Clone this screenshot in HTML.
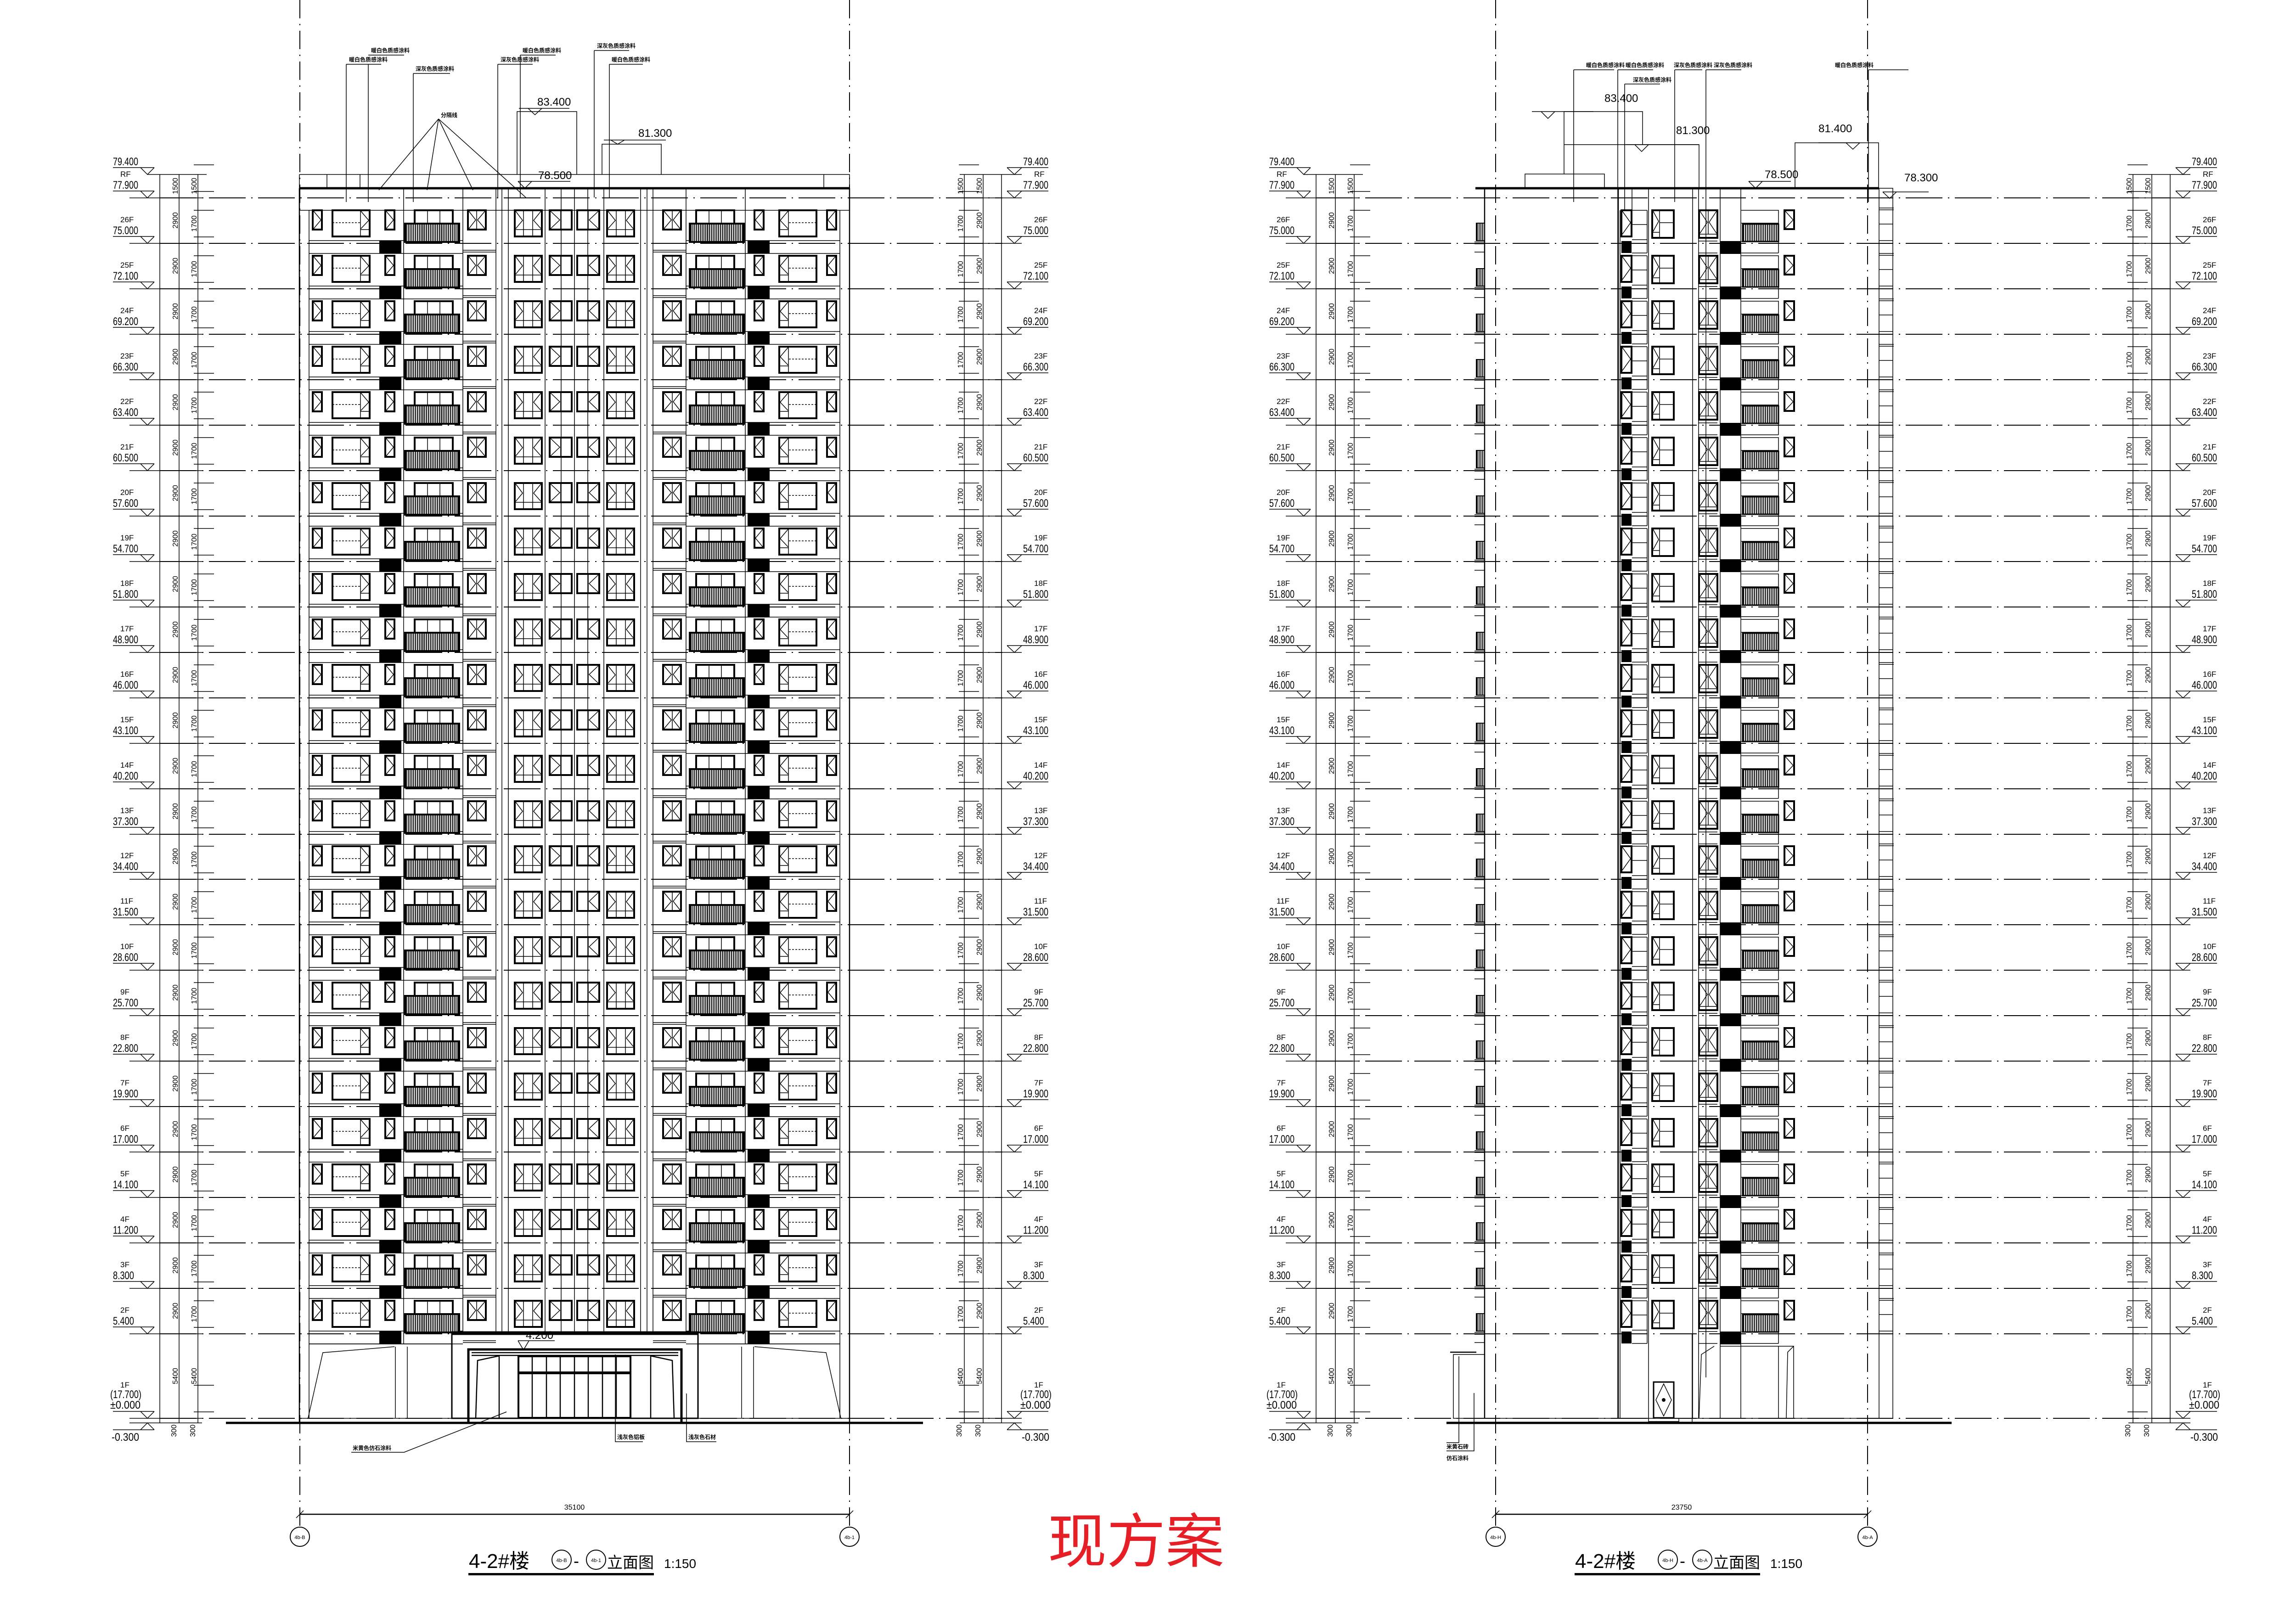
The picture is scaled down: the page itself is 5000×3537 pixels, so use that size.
<!DOCTYPE html>
<html><head><meta charset="utf-8"><style>
html,body{margin:0;padding:0;background:#fff}
svg{display:block}
text{font-family:"Liberation Sans","Noto Sans CJK SC",sans-serif;fill:#000}
path{fill:none;stroke:#000}
.n{stroke-width:1.5}
.m{stroke-width:2.5}
.k{stroke-width:5}
.w{fill:#fff;stroke:#000;stroke-width:4}
.b{fill:none;stroke:#000;stroke-width:1.5}
.dd{stroke-width:2;stroke-dasharray:80 12 3 12}
.ax{stroke-width:2;stroke-dasharray:40 12 3 12}
.f{font-size:17px}
.v{font-size:24px}
.d{font-size:16px;text-anchor:middle}
.s{font-size:12px;font-weight:bold}
</style></head><body>
<svg xmlns="http://www.w3.org/2000/svg" width="5000" height="3537" viewBox="0 0 5000 3537">
<defs>
<pattern id="h" width="4" height="10" patternUnits="userSpaceOnUse"><rect width="4" height="10" fill="#fff"/><rect width="2" height="10" fill="#000"/></pattern>
<g id="LFH">
<path class="n" d="M673 -6H1008M673 22H1008M1008 15H1080M1008 19H1080"/>
<rect x="826" y="-6" width="48" height="28"/>
<rect class="w" x="681" y="-72" width="20" height="42"/><path class="n" d="M683 -70L699 -51L683 -32"/>
<rect class="w" x="724" y="-72" width="81" height="57"/><path class="n" d="M785 -72V-15M785 -30H805M786 -70L803 -50L786 -32"/><path class="n" d="M724 -45H785" stroke-dasharray="4 3"/>
<rect class="w" x="839" y="-72" width="20" height="42"/><path class="n" d="M841 -70L857 -51L841 -32"/>
<rect class="w" x="903" y="-72" width="83" height="29"/><path class="n" d="M931 -72V-43M958 -72V-43"/>
<rect x="882" y="-43" width="118" height="40" fill="url(#h)" stroke="#000" stroke-width="4"/><path class="m" d="M921 -43V-3M961 -43V-3"/>
<rect class="w" x="1019" y="-72" width="39" height="42"/><path class="n" d="M1038 -72V-30M1021 -70L1036 -51L1021 -32M1056 -70L1040 -51L1056 -32"/>
<rect class="w" x="1121" y="-72" width="59" height="57"/><path class="n" d="M1140 -72V-15M1160 -72V-15M1121 -30H1180M1123 -70L1138 -50L1123 -32M1178 -70L1162 -50L1178 -32"/>
<rect class="w" x="1197" y="-72" width="48" height="42"/><path class="n" d="M1221 -72V-30M1199 -70L1219 -51L1199 -32"/>
</g>
<g id="LF"><use href="#LFH"/><use href="#LFH" transform="matrix(-1 0 0 1 2502 0)"/></g>
<g id="LMa"><path class="n" d="M282 0H348M246 -15H336M306 -15L321 0L336 -15M422 -72H466M422 -14H466M340 0H440"/></g>
<g id="LMb"><path class="n" d="M2183 0H2225M2193 -15H2283M2193 -15L2209 0L2225 -15M2088 -72H2132M2088 -14H2132M2092 0H2190"/></g>
<g id="F1"><use href="#LMa"/><use href="#LMb"/><path class="dd" d="M348 0H2183"/></g>
<g id="F2"><use href="#LMa" x="2518"/><use href="#LMb" x="2545"/><path class="dd" d="M2866 0H4726"/></g>
<g id="RB">
<rect x="3531" y="-5" width="22" height="26"/>
<rect x="3746" y="-5" width="45" height="28"/>
<rect class="w" x="3531" y="-72" width="22" height="57"/><path class="n" d="M3533 -70L3551 -45L3533 -20"/>
<path class="n" d="M3554 -72H3587M3554 -41H3587M3554 -8H3587M3554 21H3587M3587 -72V21"/>
<rect class="w" x="3598" y="-72" width="47" height="60"/><path class="n" d="M3614 -72V-12M3598 -24H3614M3600 -70L3612 -48L3600 -26M3614 -45H3645"/>
<rect class="w" x="3700" y="-72" width="40" height="60"/><path class="n" d="M3720 -72V-20M3700 -20H3740M3702 -70L3718 -46L3702 -22M3738 -70L3722 -46L3738 -22M3699 -5H3740M3699 21H3740"/>
<path class="n" d="M3792 -72H3873V21M3792 -44H3873M3792 -4H3873M3792 21H3873"/>
<rect x="3795" y="-42" width="78" height="38" fill="url(#h)" stroke="#000" stroke-width="3"/>
<rect class="w" x="3886" y="-72" width="21" height="41"/><path class="n" d="M3888 -70L3905 -51L3888 -33"/>
<path class="n" d="M4092 -77H4124M4092 -73H4124M4092 -42H4122M4092 -6H4122"/>
<rect x="3215" y="-44" width="18" height="38" fill="url(#h)" stroke="#000" stroke-width="2"/>
<path class="n" d="M3211 -3H3233M3211 1H3233M3211 19H3233"/>
</g>
<g id="FL"><use href="#F1"/><use href="#F2"/><use href="#LF"/><use href="#RB"/></g>
</defs>
<rect width="5000" height="3537" fill="#fff"/>

<!-- axes -->
<path class="ax" d="M653 0V3330M1850 0V3330M3257 0V3330M4067 0V3330"/>

<!-- floors -->
<use href="#FL" y="530"/><use href="#FL" y="629"/><use href="#FL" y="728"/><use href="#FL" y="827"/><use href="#FL" y="926"/>
<use href="#FL" y="1025"/><use href="#FL" y="1124"/><use href="#FL" y="1223"/><use href="#FL" y="1322"/><use href="#FL" y="1421"/>
<use href="#FL" y="1520"/><use href="#FL" y="1619"/><use href="#FL" y="1718"/><use href="#FL" y="1817"/><use href="#FL" y="1915"/>
<use href="#FL" y="2014"/><use href="#FL" y="2113"/><use href="#FL" y="2212"/><use href="#FL" y="2311"/><use href="#FL" y="2410"/>
<use href="#FL" y="2509"/><use href="#FL" y="2608"/><use href="#FL" y="2707"/><use href="#FL" y="2806"/><use href="#FL" y="2905"/>
<use href="#F1" y="431"/><use href="#F2" y="431"/>
<use href="#F1" y="3089"/><use href="#F2" y="3089"/>
<!-- 79.400 marks -->
<path class="n" d="M246 365H336M306 365L321 380L336 365M321 380H450M2193 365H2283M2193 365L2209 380L2225 365M2090 380H2225"/>
<path class="n" d="M2764 365H2854M2824 365L2839 380L2854 365M2839 380H2968M4738 365H4828M4738 365L4754 380L4770 365M4635 380H4770"/>
<!-- -0.300 marks -->
<path class="n" d="M246 3114H336M306 3114L321 3099L336 3114M282 3099H440M2193 3114H2283M2193 3114L2209 3099L2225 3114M2090 3099H2225"/>
<path class="n" d="M2764 3114H2854M2824 3114L2839 3099L2854 3114M2800 3099H2958M4738 3114H4828M4738 3114L4754 3099L4770 3114M4635 3099H4770"/>
<!-- dim verticals -->
<path class="n" d="M348 380V3099M390 380V3099M431 380V3099M2100 380V3099M2141 380V3099M2181 380V3099"/>
<path class="n" d="M2866 380V3099M2908 380V3099M2949 380V3099M4645 380V3099M4686 380V3099M4726 380V3099"/>

<!-- LEFT ELEVATION building -->
<path class="n" d="M652 380H1850V410M652 380V410M712 380V410M784 380V410M1794 380V410"/>
<path class="k" d="M652 410H1850"/>
<path class="m" d="M652 410V3099M1850 410V3099"/>
<path class="n" d="M652 458H1850M673 458V3089M1829 458V3089"/>
<path class="n" d="M879 410V2927M1008 410V2905M1080 410V2905M1093 410V2905M1107 410V2905M1187 410V2905M1222 410V2905M1251 410V2905M1623 410V2927M1494 410V2905M1422 410V2905M1409 410V2905M1395 410V2905M1315 410V2905M1280 410V2905"/>
<!-- upper structures left -->
<path class="n" d="M1126 380V243H1256V380M1311 380V314H1440V380"/>
<path class="n" d="M1130 236H1240M1150 236L1165 250L1180 236M1315 305H1450M1330 305L1345 314L1360 305M1128 395H1242M1128 395L1143 410L1158 395"/>
<text x="1170" y="230" class="v">83.400</text>
<text x="1390" y="298" class="v">81.300</text>
<text x="1172" y="390" class="v">78.500</text>
<!-- leaders top left -->
<path class="n" d="M754 140V440M754 140H830M802 140V440M802 120H880M900 160V440M900 160H980M1084 140V430M1084 140H1160M1133 120V430M1133 120H1210M1294 110V430M1294 110H1370M1327 140V430M1327 140H1400M955 259L825 414M955 259L930 414M955 259L1030 414M955 259L1145 430"/>
<text x="760" y="134" class="s">暖白色质感涂料</text>
<text x="808" y="114" class="s">暖白色质感涂料</text>
<text x="905" y="154" class="s">深灰色质感涂料</text>
<text x="1090" y="134" class="s">深灰色质感涂料</text>
<text x="1138" y="114" class="s">暖白色质感涂料</text>
<text x="1300" y="104" class="s">深灰色质感涂料</text>
<text x="1332" y="134" class="s">暖白色质感涂料</text>
<text x="960" y="255" class="s">分隔线</text>
<!-- ground floor left -->
<path class="n" d="M673 2927H984M1520 2927H1829M671 3088L703 2946L859 2933M1831 3088L1799 2946L1643 2933M861 2933V3088M887 2933V3088M1615 2933V3088M1641 2933V3088"/>
<rect x="984" y="2901" width="536" height="188" fill="none" stroke="#000" stroke-width="3"/>
<path d="M984 2904H1520" stroke-width="7"/>
<rect x="1020" y="2939" width="464" height="160" fill="none" stroke="#000" stroke-width="5"/>
<path class="m" d="M1027 2946H1477M1027 2952H1477M1036 3088L1040 2963L1087 2953M1468 3088L1464 2963L1417 2953M1087 2953V3088M1417 2953V3088"/>
<rect x="1129" y="2954" width="244" height="134" fill="none" stroke="#000" stroke-width="4"/>
<path class="m" d="M1159 2954V3088M1190 2954V3088M1220 2954V3088M1251 2954V3088M1281 2954V3088M1312 2954V3088M1342 2954V3088"/>
<path d="M1129 2990H1373" stroke-width="6"/>
<path class="n" d="M1128 2920H1208M1128 2920L1140 2940L1152 2920"/>
<text x="1145" y="2916" class="v">4.200</text>
<path class="n" d="M652 3089H1850"/>
<path d="M492 3099H2010" stroke-width="5"/>
<path class="n" d="M1103 3075L880 3163H765M1340 2950V3140H1400M1495 3035V3140H1560"/>
<text x="768" y="3158" class="s">米黄色仿石涂料</text>
<text x="1344" y="3134" class="s">浅灰色铝板</text>
<text x="1499" y="3134" class="s">浅灰色石材</text>
<!-- bottom dims left -->
<path class="m" d="M653 3298H1850"/>
<path class="n" d="M645 3306L661 3290M1842 3306L1858 3290"/>
<text x="1251" y="3288" class="d">35100</text>
<circle cx="653" cy="3347" r="21" fill="#fff" stroke="#000" stroke-width="2"/>
<circle cx="1850" cy="3347" r="21" fill="#fff" stroke="#000" stroke-width="2"/>
<text x="653" y="3352" class="d" style="font-size:11px">4b-B</text>
<text x="1850" y="3352" class="d" style="font-size:11px">4b-1</text>
<!-- title left -->
<text x="1021" y="3415" style="font-size:44px">4-2#楼</text>
<circle cx="1223" cy="3397" r="21" fill="none" stroke="#000" stroke-width="2"/>
<text x="1223" y="3402" class="d" style="font-size:11px">4b-B</text>
<text x="1249" y="3412" style="font-size:36px">-</text>
<circle cx="1298" cy="3397" r="21" fill="none" stroke="#000" stroke-width="2"/>
<text x="1298" y="3402" class="d" style="font-size:11px">4b-1</text>
<text x="1322" y="3415" style="font-size:34px">立面图</text>
<text x="1446" y="3415" style="font-size:28px">1:150</text>
<rect x="1020" y="3426" width="404" height="5"/>

<!-- RED -->
<text x="2282" y="3402" style="font-size:128px;fill:#e61e25;font-family:'Noto Sans CJK SC',sans-serif">现方案</text>

<!-- RIGHT ELEVATION building -->
<path class="k" d="M3213 410H4092"/>
<path class="n" d="M3321 410V379H3494V410M3406 379V243H3577V315M3406 315H3700V410M3909 410V311H4091V410M4092 410H4122V418"/>
<path class="m" d="M3233 410V3089M3524 410V3089"/>
<path class="n" d="M3528 458V3089M3590 410V3089M3686 410V3089M3699 410V3089M3746 410V3089M3791 410V3089M4092 410V3089M4122 418V3089M3554 410V458"/>
<path class="n" d="M3336 243H3470M3356 243L3371 258L3386 243M3540 315H3700M3560 315L3575 330L3590 315M3808 395H3900M3808 395L3823 410L3838 395M4100 418H4200M4100 418L4115 432L4130 418M3960 311H4050M4020 311L4035 325L4050 311"/>
<text x="3494" y="222" class="v">83.400</text>
<text x="3650" y="292" class="v">81.300</text>
<text x="3960" y="288" class="v">81.400</text>
<text x="3843" y="388" class="v">78.500</text>
<text x="4147" y="395" class="v">78.300</text>
<path class="n" d="M3427 152H3515M3427 152V440M3523 152H3600M3523 152V3089M3538 183H3615M3538 183V460M3647 152H3707M3647 152V440M3715 152H3792M3715 152V3000M4069 152H4156M4069 152V440"/>
<text x="3454" y="146" class="s">暖白色质感涂料</text>
<text x="3540" y="146" class="s">暖白色质感涂料</text>
<text x="3556" y="178" class="s">深灰色质感涂料</text>
<text x="3645" y="146" class="s">深灰色质感涂料</text>
<text x="3732" y="146" class="s">深灰色质感涂料</text>
<text x="3996" y="146" class="s">暖白色质感涂料</text>
<!-- ground right -->
<rect x="3601" y="3010" width="44" height="78" fill="#fff" stroke="#000" stroke-width="3"/>
<path class="n" d="M3623 3014L3606 3049L3623 3084L3640 3049ZM3590 3089V3096H3656V3089"/>
<circle cx="3623" cy="3049" r="4"/>
<path class="n" d="M3746 2932H3906V3088M3700 3088L3705 2950L3733 2932M3890 3088L3893 2945L3906 2932M3873 2932V3088M3685 2905V3099"/>
<rect x="3165" y="2950" width="68" height="139" fill="none" stroke="#000" stroke-width="1.5"/>
<path class="m" d="M3158 2945H3215"/>
<path class="n" d="M3177 2954V3142H3150M3210 3034V3160H3150"/>
<text x="3150" y="3155" class="s">米黄石砖</text>
<text x="3150" y="3180" class="s">仿石涂料</text>
<path class="n" d="M3213 3089H4122"/>
<path d="M3150 3099H4250" stroke-width="5"/>
<path class="m" d="M3257 3298H4067"/>
<path class="n" d="M3249 3306L3265 3290M4059 3306L4075 3290"/>
<text x="3662" y="3288" class="d">23750</text>
<circle cx="3257" cy="3347" r="21" fill="#fff" stroke="#000" stroke-width="2"/>
<circle cx="4067" cy="3347" r="21" fill="#fff" stroke="#000" stroke-width="2"/>
<text x="3257" y="3352" class="d" style="font-size:11px">4b-H</text>
<text x="4067" y="3352" class="d" style="font-size:11px">4b-A</text>
<text x="3430" y="3415" style="font-size:44px">4-2#楼</text>
<circle cx="3632" cy="3397" r="21" fill="none" stroke="#000" stroke-width="2"/>
<text x="3632" y="3402" class="d" style="font-size:11px">4b-H</text>
<text x="3658" y="3412" style="font-size:36px">-</text>
<circle cx="3707" cy="3397" r="21" fill="none" stroke="#000" stroke-width="2"/>
<text x="3707" y="3402" class="d" style="font-size:11px">4b-A</text>
<text x="3731" y="3415" style="font-size:34px">立面图</text>
<text x="3855" y="3415" style="font-size:28px">1:150</text>
<rect x="3429" y="3426" width="404" height="5"/>

<!-- LEVEL TEXT: block A (left side) -->
<g id="TA">
<text x="246" y="360" class="v" textLength="55" lengthAdjust="spacingAndGlyphs">79.400</text>
<text x="262" y="385" class="f">RF</text><text x="246" y="411" class="v" textLength="55" lengthAdjust="spacingAndGlyphs">77.900</text>
<text class="d" transform="translate(387 405)rotate(-90)">1500</text><text class="d" transform="translate(428 405)rotate(-90)">1500</text>
<text x="262" y="484" class="f">26F</text><text x="246" y="510" class="v" textLength="55" lengthAdjust="spacingAndGlyphs">75.000</text><text class="d" transform="translate(387 480)rotate(-90)">2900</text><text class="d" transform="translate(428 487)rotate(-90)">1700</text>
<text x="262" y="583" class="f">25F</text><text x="246" y="609" class="v" textLength="55" lengthAdjust="spacingAndGlyphs">72.100</text><text class="d" transform="translate(387 579)rotate(-90)">2900</text><text class="d" transform="translate(428 586)rotate(-90)">1700</text>
<text x="262" y="682" class="f">24F</text><text x="246" y="708" class="v" textLength="55" lengthAdjust="spacingAndGlyphs">69.200</text><text class="d" transform="translate(387 678)rotate(-90)">2900</text><text class="d" transform="translate(428 685)rotate(-90)">1700</text>
<text x="262" y="781" class="f">23F</text><text x="246" y="807" class="v" textLength="55" lengthAdjust="spacingAndGlyphs">66.300</text><text class="d" transform="translate(387 777)rotate(-90)">2900</text><text class="d" transform="translate(428 784)rotate(-90)">1700</text>
<text x="262" y="880" class="f">22F</text><text x="246" y="906" class="v" textLength="55" lengthAdjust="spacingAndGlyphs">63.400</text><text class="d" transform="translate(387 876)rotate(-90)">2900</text><text class="d" transform="translate(428 883)rotate(-90)">1700</text>
<text x="262" y="979" class="f">21F</text><text x="246" y="1005" class="v" textLength="55" lengthAdjust="spacingAndGlyphs">60.500</text><text class="d" transform="translate(387 975)rotate(-90)">2900</text><text class="d" transform="translate(428 982)rotate(-90)">1700</text>
<text x="262" y="1078" class="f">20F</text><text x="246" y="1104" class="v" textLength="55" lengthAdjust="spacingAndGlyphs">57.600</text><text class="d" transform="translate(387 1074)rotate(-90)">2900</text><text class="d" transform="translate(428 1081)rotate(-90)">1700</text>
<text x="262" y="1177" class="f">19F</text><text x="246" y="1203" class="v" textLength="55" lengthAdjust="spacingAndGlyphs">54.700</text><text class="d" transform="translate(387 1173)rotate(-90)">2900</text><text class="d" transform="translate(428 1180)rotate(-90)">1700</text>
<text x="262" y="1276" class="f">18F</text><text x="246" y="1302" class="v" textLength="55" lengthAdjust="spacingAndGlyphs">51.800</text><text class="d" transform="translate(387 1272)rotate(-90)">2900</text><text class="d" transform="translate(428 1279)rotate(-90)">1700</text>
<text x="262" y="1375" class="f">17F</text><text x="246" y="1401" class="v" textLength="55" lengthAdjust="spacingAndGlyphs">48.900</text><text class="d" transform="translate(387 1371)rotate(-90)">2900</text><text class="d" transform="translate(428 1378)rotate(-90)">1700</text>
<text x="262" y="1474" class="f">16F</text><text x="246" y="1500" class="v" textLength="55" lengthAdjust="spacingAndGlyphs">46.000</text><text class="d" transform="translate(387 1470)rotate(-90)">2900</text><text class="d" transform="translate(428 1477)rotate(-90)">1700</text>
<text x="262" y="1573" class="f">15F</text><text x="246" y="1599" class="v" textLength="55" lengthAdjust="spacingAndGlyphs">43.100</text><text class="d" transform="translate(387 1569)rotate(-90)">2900</text><text class="d" transform="translate(428 1576)rotate(-90)">1700</text>
<text x="262" y="1672" class="f">14F</text><text x="246" y="1698" class="v" textLength="55" lengthAdjust="spacingAndGlyphs">40.200</text><text class="d" transform="translate(387 1668)rotate(-90)">2900</text><text class="d" transform="translate(428 1675)rotate(-90)">1700</text>
<text x="262" y="1771" class="f">13F</text><text x="246" y="1797" class="v" textLength="55" lengthAdjust="spacingAndGlyphs">37.300</text><text class="d" transform="translate(387 1767)rotate(-90)">2900</text><text class="d" transform="translate(428 1774)rotate(-90)">1700</text>
<text x="262" y="1869" class="f">12F</text><text x="246" y="1895" class="v" textLength="55" lengthAdjust="spacingAndGlyphs">34.400</text><text class="d" transform="translate(387 1865)rotate(-90)">2900</text><text class="d" transform="translate(428 1872)rotate(-90)">1700</text>
<text x="262" y="1968" class="f">11F</text><text x="246" y="1994" class="v" textLength="55" lengthAdjust="spacingAndGlyphs">31.500</text><text class="d" transform="translate(387 1964)rotate(-90)">2900</text><text class="d" transform="translate(428 1971)rotate(-90)">1700</text>
<text x="262" y="2067" class="f">10F</text><text x="246" y="2093" class="v" textLength="55" lengthAdjust="spacingAndGlyphs">28.600</text><text class="d" transform="translate(387 2063)rotate(-90)">2900</text><text class="d" transform="translate(428 2070)rotate(-90)">1700</text>
<text x="262" y="2166" class="f">9F</text><text x="246" y="2192" class="v" textLength="55" lengthAdjust="spacingAndGlyphs">25.700</text><text class="d" transform="translate(387 2162)rotate(-90)">2900</text><text class="d" transform="translate(428 2169)rotate(-90)">1700</text>
<text x="262" y="2265" class="f">8F</text><text x="246" y="2291" class="v" textLength="55" lengthAdjust="spacingAndGlyphs">22.800</text><text class="d" transform="translate(387 2261)rotate(-90)">2900</text><text class="d" transform="translate(428 2268)rotate(-90)">1700</text>
<text x="262" y="2364" class="f">7F</text><text x="246" y="2390" class="v" textLength="55" lengthAdjust="spacingAndGlyphs">19.900</text><text class="d" transform="translate(387 2360)rotate(-90)">2900</text><text class="d" transform="translate(428 2367)rotate(-90)">1700</text>
<text x="262" y="2463" class="f">6F</text><text x="246" y="2489" class="v" textLength="55" lengthAdjust="spacingAndGlyphs">17.000</text><text class="d" transform="translate(387 2459)rotate(-90)">2900</text><text class="d" transform="translate(428 2466)rotate(-90)">1700</text>
<text x="262" y="2562" class="f">5F</text><text x="246" y="2588" class="v" textLength="55" lengthAdjust="spacingAndGlyphs">14.100</text><text class="d" transform="translate(387 2558)rotate(-90)">2900</text><text class="d" transform="translate(428 2565)rotate(-90)">1700</text>
<text x="262" y="2661" class="f">4F</text><text x="246" y="2687" class="v" textLength="55" lengthAdjust="spacingAndGlyphs">11.200</text><text class="d" transform="translate(387 2657)rotate(-90)">2900</text><text class="d" transform="translate(428 2664)rotate(-90)">1700</text>
<text x="262" y="2760" class="f">3F</text><text x="246" y="2786" class="v" textLength="46" lengthAdjust="spacingAndGlyphs">8.300</text><text class="d" transform="translate(387 2756)rotate(-90)">2900</text><text class="d" transform="translate(428 2763)rotate(-90)">1700</text>
<text x="262" y="2859" class="f">2F</text><text x="246" y="2885" class="v" textLength="46" lengthAdjust="spacingAndGlyphs">5.400</text><text class="d" transform="translate(387 2855)rotate(-90)">2900</text><text class="d" transform="translate(428 2862)rotate(-90)">1700</text>
<text x="262" y="3022" class="f">1F</text><text x="240" y="3045" class="v" textLength="68" lengthAdjust="spacingAndGlyphs">(17.700)</text><text x="240" y="3068" class="v" textLength="66" lengthAdjust="spacingAndGlyphs">±0.000</text>
<text class="d" transform="translate(387 2997)rotate(-90)">5400</text><text class="d" transform="translate(428 2997)rotate(-90)">5400</text>
<text x="243" y="3138" class="v" textLength="60" lengthAdjust="spacingAndGlyphs">-0.300</text>
<text class="d" transform="translate(384 3116)rotate(-90)">300</text><text class="d" transform="translate(425 3116)rotate(-90)">300</text>
</g>
<!-- block B (right side) -->
<g id="TB">
<text x="2228" y="360" class="v" textLength="55" lengthAdjust="spacingAndGlyphs">79.400</text>
<text x="2252" y="385" class="f">RF</text><text x="2228" y="411" class="v" textLength="55" lengthAdjust="spacingAndGlyphs">77.900</text>
<text class="d" transform="translate(2097 405)rotate(-90)">1500</text><text class="d" transform="translate(2138 405)rotate(-90)">1500</text>
<text x="2252" y="484" class="f">26F</text><text x="2228" y="510" class="v" textLength="55" lengthAdjust="spacingAndGlyphs">75.000</text><text class="d" transform="translate(2138 480)rotate(-90)">2900</text><text class="d" transform="translate(2097 487)rotate(-90)">1700</text>
<text x="2252" y="583" class="f">25F</text><text x="2228" y="609" class="v" textLength="55" lengthAdjust="spacingAndGlyphs">72.100</text><text class="d" transform="translate(2138 579)rotate(-90)">2900</text><text class="d" transform="translate(2097 586)rotate(-90)">1700</text>
<text x="2252" y="682" class="f">24F</text><text x="2228" y="708" class="v" textLength="55" lengthAdjust="spacingAndGlyphs">69.200</text><text class="d" transform="translate(2138 678)rotate(-90)">2900</text><text class="d" transform="translate(2097 685)rotate(-90)">1700</text>
<text x="2252" y="781" class="f">23F</text><text x="2228" y="807" class="v" textLength="55" lengthAdjust="spacingAndGlyphs">66.300</text><text class="d" transform="translate(2138 777)rotate(-90)">2900</text><text class="d" transform="translate(2097 784)rotate(-90)">1700</text>
<text x="2252" y="880" class="f">22F</text><text x="2228" y="906" class="v" textLength="55" lengthAdjust="spacingAndGlyphs">63.400</text><text class="d" transform="translate(2138 876)rotate(-90)">2900</text><text class="d" transform="translate(2097 883)rotate(-90)">1700</text>
<text x="2252" y="979" class="f">21F</text><text x="2228" y="1005" class="v" textLength="55" lengthAdjust="spacingAndGlyphs">60.500</text><text class="d" transform="translate(2138 975)rotate(-90)">2900</text><text class="d" transform="translate(2097 982)rotate(-90)">1700</text>
<text x="2252" y="1078" class="f">20F</text><text x="2228" y="1104" class="v" textLength="55" lengthAdjust="spacingAndGlyphs">57.600</text><text class="d" transform="translate(2138 1074)rotate(-90)">2900</text><text class="d" transform="translate(2097 1081)rotate(-90)">1700</text>
<text x="2252" y="1177" class="f">19F</text><text x="2228" y="1203" class="v" textLength="55" lengthAdjust="spacingAndGlyphs">54.700</text><text class="d" transform="translate(2138 1173)rotate(-90)">2900</text><text class="d" transform="translate(2097 1180)rotate(-90)">1700</text>
<text x="2252" y="1276" class="f">18F</text><text x="2228" y="1302" class="v" textLength="55" lengthAdjust="spacingAndGlyphs">51.800</text><text class="d" transform="translate(2138 1272)rotate(-90)">2900</text><text class="d" transform="translate(2097 1279)rotate(-90)">1700</text>
<text x="2252" y="1375" class="f">17F</text><text x="2228" y="1401" class="v" textLength="55" lengthAdjust="spacingAndGlyphs">48.900</text><text class="d" transform="translate(2138 1371)rotate(-90)">2900</text><text class="d" transform="translate(2097 1378)rotate(-90)">1700</text>
<text x="2252" y="1474" class="f">16F</text><text x="2228" y="1500" class="v" textLength="55" lengthAdjust="spacingAndGlyphs">46.000</text><text class="d" transform="translate(2138 1470)rotate(-90)">2900</text><text class="d" transform="translate(2097 1477)rotate(-90)">1700</text>
<text x="2252" y="1573" class="f">15F</text><text x="2228" y="1599" class="v" textLength="55" lengthAdjust="spacingAndGlyphs">43.100</text><text class="d" transform="translate(2138 1569)rotate(-90)">2900</text><text class="d" transform="translate(2097 1576)rotate(-90)">1700</text>
<text x="2252" y="1672" class="f">14F</text><text x="2228" y="1698" class="v" textLength="55" lengthAdjust="spacingAndGlyphs">40.200</text><text class="d" transform="translate(2138 1668)rotate(-90)">2900</text><text class="d" transform="translate(2097 1675)rotate(-90)">1700</text>
<text x="2252" y="1771" class="f">13F</text><text x="2228" y="1797" class="v" textLength="55" lengthAdjust="spacingAndGlyphs">37.300</text><text class="d" transform="translate(2138 1767)rotate(-90)">2900</text><text class="d" transform="translate(2097 1774)rotate(-90)">1700</text>
<text x="2252" y="1869" class="f">12F</text><text x="2228" y="1895" class="v" textLength="55" lengthAdjust="spacingAndGlyphs">34.400</text><text class="d" transform="translate(2138 1865)rotate(-90)">2900</text><text class="d" transform="translate(2097 1872)rotate(-90)">1700</text>
<text x="2252" y="1968" class="f">11F</text><text x="2228" y="1994" class="v" textLength="55" lengthAdjust="spacingAndGlyphs">31.500</text><text class="d" transform="translate(2138 1964)rotate(-90)">2900</text><text class="d" transform="translate(2097 1971)rotate(-90)">1700</text>
<text x="2252" y="2067" class="f">10F</text><text x="2228" y="2093" class="v" textLength="55" lengthAdjust="spacingAndGlyphs">28.600</text><text class="d" transform="translate(2138 2063)rotate(-90)">2900</text><text class="d" transform="translate(2097 2070)rotate(-90)">1700</text>
<text x="2252" y="2166" class="f">9F</text><text x="2228" y="2192" class="v" textLength="55" lengthAdjust="spacingAndGlyphs">25.700</text><text class="d" transform="translate(2138 2162)rotate(-90)">2900</text><text class="d" transform="translate(2097 2169)rotate(-90)">1700</text>
<text x="2252" y="2265" class="f">8F</text><text x="2228" y="2291" class="v" textLength="55" lengthAdjust="spacingAndGlyphs">22.800</text><text class="d" transform="translate(2138 2261)rotate(-90)">2900</text><text class="d" transform="translate(2097 2268)rotate(-90)">1700</text>
<text x="2252" y="2364" class="f">7F</text><text x="2228" y="2390" class="v" textLength="55" lengthAdjust="spacingAndGlyphs">19.900</text><text class="d" transform="translate(2138 2360)rotate(-90)">2900</text><text class="d" transform="translate(2097 2367)rotate(-90)">1700</text>
<text x="2252" y="2463" class="f">6F</text><text x="2228" y="2489" class="v" textLength="55" lengthAdjust="spacingAndGlyphs">17.000</text><text class="d" transform="translate(2138 2459)rotate(-90)">2900</text><text class="d" transform="translate(2097 2466)rotate(-90)">1700</text>
<text x="2252" y="2562" class="f">5F</text><text x="2228" y="2588" class="v" textLength="55" lengthAdjust="spacingAndGlyphs">14.100</text><text class="d" transform="translate(2138 2558)rotate(-90)">2900</text><text class="d" transform="translate(2097 2565)rotate(-90)">1700</text>
<text x="2252" y="2661" class="f">4F</text><text x="2228" y="2687" class="v" textLength="55" lengthAdjust="spacingAndGlyphs">11.200</text><text class="d" transform="translate(2138 2657)rotate(-90)">2900</text><text class="d" transform="translate(2097 2664)rotate(-90)">1700</text>
<text x="2252" y="2760" class="f">3F</text><text x="2228" y="2786" class="v" textLength="46" lengthAdjust="spacingAndGlyphs">8.300</text><text class="d" transform="translate(2138 2756)rotate(-90)">2900</text><text class="d" transform="translate(2097 2763)rotate(-90)">1700</text>
<text x="2252" y="2859" class="f">2F</text><text x="2228" y="2885" class="v" textLength="46" lengthAdjust="spacingAndGlyphs">5.400</text><text class="d" transform="translate(2138 2855)rotate(-90)">2900</text><text class="d" transform="translate(2097 2862)rotate(-90)">1700</text>
<text x="2252" y="3022" class="f">1F</text><text x="2222" y="3045" class="v" textLength="68" lengthAdjust="spacingAndGlyphs">(17.700)</text><text x="2222" y="3068" class="v" textLength="66" lengthAdjust="spacingAndGlyphs">±0.000</text>
<text class="d" transform="translate(2138 2997)rotate(-90)">5400</text><text class="d" transform="translate(2097 2997)rotate(-90)">5400</text>
<text x="2225" y="3138" class="v" textLength="60" lengthAdjust="spacingAndGlyphs">-0.300</text>
<text class="d" transform="translate(2135 3116)rotate(-90)">300</text><text class="d" transform="translate(2094 3116)rotate(-90)">300</text>
</g>
<!-- Right elevation level text -->
<g transform="translate(2518 0)">
<text x="246" y="360" class="v" textLength="55" lengthAdjust="spacingAndGlyphs">79.400</text>
<text x="262" y="385" class="f">RF</text><text x="246" y="411" class="v" textLength="55" lengthAdjust="spacingAndGlyphs">77.900</text>
<text class="d" transform="translate(387 405)rotate(-90)">1500</text><text class="d" transform="translate(428 405)rotate(-90)">1500</text>
<text x="262" y="484" class="f">26F</text><text x="246" y="510" class="v" textLength="55" lengthAdjust="spacingAndGlyphs">75.000</text><text class="d" transform="translate(387 480)rotate(-90)">2900</text><text class="d" transform="translate(428 487)rotate(-90)">1700</text>
<text x="262" y="583" class="f">25F</text><text x="246" y="609" class="v" textLength="55" lengthAdjust="spacingAndGlyphs">72.100</text><text class="d" transform="translate(387 579)rotate(-90)">2900</text><text class="d" transform="translate(428 586)rotate(-90)">1700</text>
<text x="262" y="682" class="f">24F</text><text x="246" y="708" class="v" textLength="55" lengthAdjust="spacingAndGlyphs">69.200</text><text class="d" transform="translate(387 678)rotate(-90)">2900</text><text class="d" transform="translate(428 685)rotate(-90)">1700</text>
<text x="262" y="781" class="f">23F</text><text x="246" y="807" class="v" textLength="55" lengthAdjust="spacingAndGlyphs">66.300</text><text class="d" transform="translate(387 777)rotate(-90)">2900</text><text class="d" transform="translate(428 784)rotate(-90)">1700</text>
<text x="262" y="880" class="f">22F</text><text x="246" y="906" class="v" textLength="55" lengthAdjust="spacingAndGlyphs">63.400</text><text class="d" transform="translate(387 876)rotate(-90)">2900</text><text class="d" transform="translate(428 883)rotate(-90)">1700</text>
<text x="262" y="979" class="f">21F</text><text x="246" y="1005" class="v" textLength="55" lengthAdjust="spacingAndGlyphs">60.500</text><text class="d" transform="translate(387 975)rotate(-90)">2900</text><text class="d" transform="translate(428 982)rotate(-90)">1700</text>
<text x="262" y="1078" class="f">20F</text><text x="246" y="1104" class="v" textLength="55" lengthAdjust="spacingAndGlyphs">57.600</text><text class="d" transform="translate(387 1074)rotate(-90)">2900</text><text class="d" transform="translate(428 1081)rotate(-90)">1700</text>
<text x="262" y="1177" class="f">19F</text><text x="246" y="1203" class="v" textLength="55" lengthAdjust="spacingAndGlyphs">54.700</text><text class="d" transform="translate(387 1173)rotate(-90)">2900</text><text class="d" transform="translate(428 1180)rotate(-90)">1700</text>
<text x="262" y="1276" class="f">18F</text><text x="246" y="1302" class="v" textLength="55" lengthAdjust="spacingAndGlyphs">51.800</text><text class="d" transform="translate(387 1272)rotate(-90)">2900</text><text class="d" transform="translate(428 1279)rotate(-90)">1700</text>
<text x="262" y="1375" class="f">17F</text><text x="246" y="1401" class="v" textLength="55" lengthAdjust="spacingAndGlyphs">48.900</text><text class="d" transform="translate(387 1371)rotate(-90)">2900</text><text class="d" transform="translate(428 1378)rotate(-90)">1700</text>
<text x="262" y="1474" class="f">16F</text><text x="246" y="1500" class="v" textLength="55" lengthAdjust="spacingAndGlyphs">46.000</text><text class="d" transform="translate(387 1470)rotate(-90)">2900</text><text class="d" transform="translate(428 1477)rotate(-90)">1700</text>
<text x="262" y="1573" class="f">15F</text><text x="246" y="1599" class="v" textLength="55" lengthAdjust="spacingAndGlyphs">43.100</text><text class="d" transform="translate(387 1569)rotate(-90)">2900</text><text class="d" transform="translate(428 1576)rotate(-90)">1700</text>
<text x="262" y="1672" class="f">14F</text><text x="246" y="1698" class="v" textLength="55" lengthAdjust="spacingAndGlyphs">40.200</text><text class="d" transform="translate(387 1668)rotate(-90)">2900</text><text class="d" transform="translate(428 1675)rotate(-90)">1700</text>
<text x="262" y="1771" class="f">13F</text><text x="246" y="1797" class="v" textLength="55" lengthAdjust="spacingAndGlyphs">37.300</text><text class="d" transform="translate(387 1767)rotate(-90)">2900</text><text class="d" transform="translate(428 1774)rotate(-90)">1700</text>
<text x="262" y="1869" class="f">12F</text><text x="246" y="1895" class="v" textLength="55" lengthAdjust="spacingAndGlyphs">34.400</text><text class="d" transform="translate(387 1865)rotate(-90)">2900</text><text class="d" transform="translate(428 1872)rotate(-90)">1700</text>
<text x="262" y="1968" class="f">11F</text><text x="246" y="1994" class="v" textLength="55" lengthAdjust="spacingAndGlyphs">31.500</text><text class="d" transform="translate(387 1964)rotate(-90)">2900</text><text class="d" transform="translate(428 1971)rotate(-90)">1700</text>
<text x="262" y="2067" class="f">10F</text><text x="246" y="2093" class="v" textLength="55" lengthAdjust="spacingAndGlyphs">28.600</text><text class="d" transform="translate(387 2063)rotate(-90)">2900</text><text class="d" transform="translate(428 2070)rotate(-90)">1700</text>
<text x="262" y="2166" class="f">9F</text><text x="246" y="2192" class="v" textLength="55" lengthAdjust="spacingAndGlyphs">25.700</text><text class="d" transform="translate(387 2162)rotate(-90)">2900</text><text class="d" transform="translate(428 2169)rotate(-90)">1700</text>
<text x="262" y="2265" class="f">8F</text><text x="246" y="2291" class="v" textLength="55" lengthAdjust="spacingAndGlyphs">22.800</text><text class="d" transform="translate(387 2261)rotate(-90)">2900</text><text class="d" transform="translate(428 2268)rotate(-90)">1700</text>
<text x="262" y="2364" class="f">7F</text><text x="246" y="2390" class="v" textLength="55" lengthAdjust="spacingAndGlyphs">19.900</text><text class="d" transform="translate(387 2360)rotate(-90)">2900</text><text class="d" transform="translate(428 2367)rotate(-90)">1700</text>
<text x="262" y="2463" class="f">6F</text><text x="246" y="2489" class="v" textLength="55" lengthAdjust="spacingAndGlyphs">17.000</text><text class="d" transform="translate(387 2459)rotate(-90)">2900</text><text class="d" transform="translate(428 2466)rotate(-90)">1700</text>
<text x="262" y="2562" class="f">5F</text><text x="246" y="2588" class="v" textLength="55" lengthAdjust="spacingAndGlyphs">14.100</text><text class="d" transform="translate(387 2558)rotate(-90)">2900</text><text class="d" transform="translate(428 2565)rotate(-90)">1700</text>
<text x="262" y="2661" class="f">4F</text><text x="246" y="2687" class="v" textLength="55" lengthAdjust="spacingAndGlyphs">11.200</text><text class="d" transform="translate(387 2657)rotate(-90)">2900</text><text class="d" transform="translate(428 2664)rotate(-90)">1700</text>
<text x="262" y="2760" class="f">3F</text><text x="246" y="2786" class="v" textLength="46" lengthAdjust="spacingAndGlyphs">8.300</text><text class="d" transform="translate(387 2756)rotate(-90)">2900</text><text class="d" transform="translate(428 2763)rotate(-90)">1700</text>
<text x="262" y="2859" class="f">2F</text><text x="246" y="2885" class="v" textLength="46" lengthAdjust="spacingAndGlyphs">5.400</text><text class="d" transform="translate(387 2855)rotate(-90)">2900</text><text class="d" transform="translate(428 2862)rotate(-90)">1700</text>
<text x="262" y="3022" class="f">1F</text><text x="240" y="3045" class="v" textLength="68" lengthAdjust="spacingAndGlyphs">(17.700)</text><text x="240" y="3068" class="v" textLength="66" lengthAdjust="spacingAndGlyphs">±0.000</text>
<text class="d" transform="translate(387 2997)rotate(-90)">5400</text><text class="d" transform="translate(428 2997)rotate(-90)">5400</text>
<text x="243" y="3138" class="v" textLength="60" lengthAdjust="spacingAndGlyphs">-0.300</text>
<text class="d" transform="translate(384 3116)rotate(-90)">300</text><text class="d" transform="translate(425 3116)rotate(-90)">300</text>
</g>
<g transform="translate(2545 0)">
<text x="2228" y="360" class="v" textLength="55" lengthAdjust="spacingAndGlyphs">79.400</text>
<text x="2252" y="385" class="f">RF</text><text x="2228" y="411" class="v" textLength="55" lengthAdjust="spacingAndGlyphs">77.900</text>
<text class="d" transform="translate(2097 405)rotate(-90)">1500</text><text class="d" transform="translate(2138 405)rotate(-90)">1500</text>
<text x="2252" y="484" class="f">26F</text><text x="2228" y="510" class="v" textLength="55" lengthAdjust="spacingAndGlyphs">75.000</text><text class="d" transform="translate(2138 480)rotate(-90)">2900</text><text class="d" transform="translate(2097 487)rotate(-90)">1700</text>
<text x="2252" y="583" class="f">25F</text><text x="2228" y="609" class="v" textLength="55" lengthAdjust="spacingAndGlyphs">72.100</text><text class="d" transform="translate(2138 579)rotate(-90)">2900</text><text class="d" transform="translate(2097 586)rotate(-90)">1700</text>
<text x="2252" y="682" class="f">24F</text><text x="2228" y="708" class="v" textLength="55" lengthAdjust="spacingAndGlyphs">69.200</text><text class="d" transform="translate(2138 678)rotate(-90)">2900</text><text class="d" transform="translate(2097 685)rotate(-90)">1700</text>
<text x="2252" y="781" class="f">23F</text><text x="2228" y="807" class="v" textLength="55" lengthAdjust="spacingAndGlyphs">66.300</text><text class="d" transform="translate(2138 777)rotate(-90)">2900</text><text class="d" transform="translate(2097 784)rotate(-90)">1700</text>
<text x="2252" y="880" class="f">22F</text><text x="2228" y="906" class="v" textLength="55" lengthAdjust="spacingAndGlyphs">63.400</text><text class="d" transform="translate(2138 876)rotate(-90)">2900</text><text class="d" transform="translate(2097 883)rotate(-90)">1700</text>
<text x="2252" y="979" class="f">21F</text><text x="2228" y="1005" class="v" textLength="55" lengthAdjust="spacingAndGlyphs">60.500</text><text class="d" transform="translate(2138 975)rotate(-90)">2900</text><text class="d" transform="translate(2097 982)rotate(-90)">1700</text>
<text x="2252" y="1078" class="f">20F</text><text x="2228" y="1104" class="v" textLength="55" lengthAdjust="spacingAndGlyphs">57.600</text><text class="d" transform="translate(2138 1074)rotate(-90)">2900</text><text class="d" transform="translate(2097 1081)rotate(-90)">1700</text>
<text x="2252" y="1177" class="f">19F</text><text x="2228" y="1203" class="v" textLength="55" lengthAdjust="spacingAndGlyphs">54.700</text><text class="d" transform="translate(2138 1173)rotate(-90)">2900</text><text class="d" transform="translate(2097 1180)rotate(-90)">1700</text>
<text x="2252" y="1276" class="f">18F</text><text x="2228" y="1302" class="v" textLength="55" lengthAdjust="spacingAndGlyphs">51.800</text><text class="d" transform="translate(2138 1272)rotate(-90)">2900</text><text class="d" transform="translate(2097 1279)rotate(-90)">1700</text>
<text x="2252" y="1375" class="f">17F</text><text x="2228" y="1401" class="v" textLength="55" lengthAdjust="spacingAndGlyphs">48.900</text><text class="d" transform="translate(2138 1371)rotate(-90)">2900</text><text class="d" transform="translate(2097 1378)rotate(-90)">1700</text>
<text x="2252" y="1474" class="f">16F</text><text x="2228" y="1500" class="v" textLength="55" lengthAdjust="spacingAndGlyphs">46.000</text><text class="d" transform="translate(2138 1470)rotate(-90)">2900</text><text class="d" transform="translate(2097 1477)rotate(-90)">1700</text>
<text x="2252" y="1573" class="f">15F</text><text x="2228" y="1599" class="v" textLength="55" lengthAdjust="spacingAndGlyphs">43.100</text><text class="d" transform="translate(2138 1569)rotate(-90)">2900</text><text class="d" transform="translate(2097 1576)rotate(-90)">1700</text>
<text x="2252" y="1672" class="f">14F</text><text x="2228" y="1698" class="v" textLength="55" lengthAdjust="spacingAndGlyphs">40.200</text><text class="d" transform="translate(2138 1668)rotate(-90)">2900</text><text class="d" transform="translate(2097 1675)rotate(-90)">1700</text>
<text x="2252" y="1771" class="f">13F</text><text x="2228" y="1797" class="v" textLength="55" lengthAdjust="spacingAndGlyphs">37.300</text><text class="d" transform="translate(2138 1767)rotate(-90)">2900</text><text class="d" transform="translate(2097 1774)rotate(-90)">1700</text>
<text x="2252" y="1869" class="f">12F</text><text x="2228" y="1895" class="v" textLength="55" lengthAdjust="spacingAndGlyphs">34.400</text><text class="d" transform="translate(2138 1865)rotate(-90)">2900</text><text class="d" transform="translate(2097 1872)rotate(-90)">1700</text>
<text x="2252" y="1968" class="f">11F</text><text x="2228" y="1994" class="v" textLength="55" lengthAdjust="spacingAndGlyphs">31.500</text><text class="d" transform="translate(2138 1964)rotate(-90)">2900</text><text class="d" transform="translate(2097 1971)rotate(-90)">1700</text>
<text x="2252" y="2067" class="f">10F</text><text x="2228" y="2093" class="v" textLength="55" lengthAdjust="spacingAndGlyphs">28.600</text><text class="d" transform="translate(2138 2063)rotate(-90)">2900</text><text class="d" transform="translate(2097 2070)rotate(-90)">1700</text>
<text x="2252" y="2166" class="f">9F</text><text x="2228" y="2192" class="v" textLength="55" lengthAdjust="spacingAndGlyphs">25.700</text><text class="d" transform="translate(2138 2162)rotate(-90)">2900</text><text class="d" transform="translate(2097 2169)rotate(-90)">1700</text>
<text x="2252" y="2265" class="f">8F</text><text x="2228" y="2291" class="v" textLength="55" lengthAdjust="spacingAndGlyphs">22.800</text><text class="d" transform="translate(2138 2261)rotate(-90)">2900</text><text class="d" transform="translate(2097 2268)rotate(-90)">1700</text>
<text x="2252" y="2364" class="f">7F</text><text x="2228" y="2390" class="v" textLength="55" lengthAdjust="spacingAndGlyphs">19.900</text><text class="d" transform="translate(2138 2360)rotate(-90)">2900</text><text class="d" transform="translate(2097 2367)rotate(-90)">1700</text>
<text x="2252" y="2463" class="f">6F</text><text x="2228" y="2489" class="v" textLength="55" lengthAdjust="spacingAndGlyphs">17.000</text><text class="d" transform="translate(2138 2459)rotate(-90)">2900</text><text class="d" transform="translate(2097 2466)rotate(-90)">1700</text>
<text x="2252" y="2562" class="f">5F</text><text x="2228" y="2588" class="v" textLength="55" lengthAdjust="spacingAndGlyphs">14.100</text><text class="d" transform="translate(2138 2558)rotate(-90)">2900</text><text class="d" transform="translate(2097 2565)rotate(-90)">1700</text>
<text x="2252" y="2661" class="f">4F</text><text x="2228" y="2687" class="v" textLength="55" lengthAdjust="spacingAndGlyphs">11.200</text><text class="d" transform="translate(2138 2657)rotate(-90)">2900</text><text class="d" transform="translate(2097 2664)rotate(-90)">1700</text>
<text x="2252" y="2760" class="f">3F</text><text x="2228" y="2786" class="v" textLength="46" lengthAdjust="spacingAndGlyphs">8.300</text><text class="d" transform="translate(2138 2756)rotate(-90)">2900</text><text class="d" transform="translate(2097 2763)rotate(-90)">1700</text>
<text x="2252" y="2859" class="f">2F</text><text x="2228" y="2885" class="v" textLength="46" lengthAdjust="spacingAndGlyphs">5.400</text><text class="d" transform="translate(2138 2855)rotate(-90)">2900</text><text class="d" transform="translate(2097 2862)rotate(-90)">1700</text>
<text x="2252" y="3022" class="f">1F</text><text x="2222" y="3045" class="v" textLength="68" lengthAdjust="spacingAndGlyphs">(17.700)</text><text x="2222" y="3068" class="v" textLength="66" lengthAdjust="spacingAndGlyphs">±0.000</text>
<text class="d" transform="translate(2138 2997)rotate(-90)">5400</text><text class="d" transform="translate(2097 2997)rotate(-90)">5400</text>
<text x="2225" y="3138" class="v" textLength="60" lengthAdjust="spacingAndGlyphs">-0.300</text>
<text class="d" transform="translate(2135 3116)rotate(-90)">300</text><text class="d" transform="translate(2094 3116)rotate(-90)">300</text>
</g>
</svg>
</body></html>
